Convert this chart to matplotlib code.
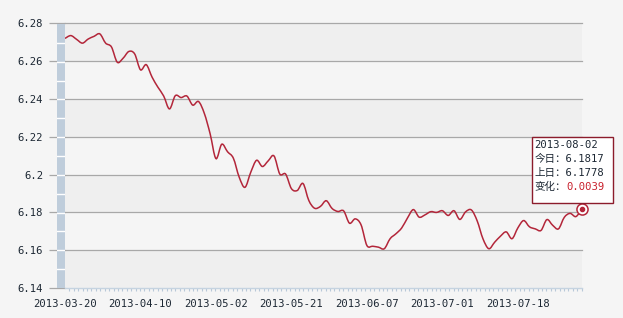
import matplotlib
matplotlib.use("Agg")
import matplotlib.pyplot as plt
from matplotlib.path import Path
from matplotlib.patches import PathPatch

# USD/CNY central parity, one point per trading day, 2013-03-20 .. 2013-08-02
rates = [6.2721, 6.2736, 6.2716, 6.2696, 6.2718, 6.2732, 6.2745, 6.2696, 6.2676, 6.2595,
         6.2616, 6.2652, 6.2639, 6.2555, 6.2582, 6.2516, 6.2463, 6.2416, 6.2348, 6.2418,
         6.2408, 6.2416, 6.2368, 6.2387, 6.2324, 6.2216, 6.2085, 6.2161, 6.2121, 6.2087,
         6.1987, 6.1933, 6.2013, 6.2076, 6.2043, 6.2073, 6.2099, 6.2003, 6.2003, 6.1926,
         6.1916, 6.1953, 6.1863, 6.1822, 6.1832, 6.1862, 6.1821, 6.1805, 6.1808, 6.1743,
         6.1766, 6.1734, 6.1625, 6.1621, 6.1616, 6.1608, 6.1661, 6.1687, 6.1718, 6.1771,
         6.1815, 6.1775, 6.1787, 6.1804, 6.1800, 6.1809, 6.1784, 6.1809, 6.1763, 6.1803,
         6.1813, 6.1755, 6.1660, 6.1608, 6.1642, 6.1674, 6.1697, 6.1661, 6.1718, 6.1757,
         6.1724, 6.1713, 6.1705, 6.1762, 6.1732, 6.1713, 6.1774, 6.1795, 6.1778, 6.1817]
date_labels = ["2013-03-20", "2013-04-10", "2013-05-02", "2013-05-21",
               "2013-06-07", "2013-07-01", "2013-07-18"]
label_idx = [0, 13, 26, 39, 52, 65, 78]
y_ticks = [6.14, 6.16, 6.18, 6.2, 6.22, 6.24, 6.26, 6.28]
y_tick_labels = ["6.14", "6.16", "6.18", "6.2", "6.22", "6.24", "6.26", "6.28"]
last_date = "2013-08-02"
today_val = "6.1817"
prev_val = "6.1778"
change_val = "0.0039"

W, H = 623, 318
BG = "#f5f5f5"
BAND = "#efefef"
RED = "#b3263a"
TXT = "#1c2733"
MONO = "DejaVu Sans Mono"

fig = plt.figure(figsize=(W / 100, H / 100), dpi=100, facecolor=BG)
left, right, top, bottom = 65, 581.7, 23.5, 288
ax = fig.add_axes([left / W, 1 - bottom / H, (right - left) / W, (bottom - top) / H])
ax.set_facecolor(BG)

n = len(rates)
ax.set_xlim(0, n - 1)
ax.set_ylim(6.14, 6.28)

for lo in [6.14, 6.18, 6.22, 6.26]:
    ax.axhspan(lo, lo + 0.02, color=BAND, zorder=0, lw=0)
for y in y_ticks[1:]:
    ax.axhline(y, color="#a8a8a8", lw=0.9, zorder=1, clip_on=False)

# smooth curve through the daily points (Catmull-Rom as cubic Bezier)
pts = list(zip(range(n), rates))
verts = [pts[0]]
codes = [Path.MOVETO]
for i in range(n - 1):
    p0 = pts[max(i - 1, 0)]
    p1 = pts[i]
    p2 = pts[i + 1]
    p3 = pts[min(i + 2, n - 1)]
    c1 = (p1[0] + (p2[0] - p0[0]) / 6, p1[1] + (p2[1] - p0[1]) / 6)
    c2 = (p2[0] - (p3[0] - p1[0]) / 6, p2[1] - (p3[1] - p1[1]) / 6)
    verts += [c1, c2, p2]
    codes += [Path.CURVE4] * 3
ax.add_patch(PathPatch(Path(verts, codes), fill=False, edgecolor=RED, lw=1.1, zorder=3))

ax.set_yticks(y_ticks)
ax.set_yticklabels(y_tick_labels, fontfamily=MONO, fontsize=7.6, color=TXT)
ax.tick_params(axis="y", length=11.5, width=0.9, color="#a8a8a8", pad=4.3)

ax.set_xticks(label_idx)
ax.set_xticklabels(date_labels, fontfamily=MONO, fontsize=7.6, color=TXT)
ax.tick_params(axis="x", which="major", length=0, pad=8)
ax.set_xticks([i * (n - 1) / 117 for i in range(118)], minor=True)
ax.tick_params(axis="x", which="minor", length=2.5, width=0.8, color="#b8c8d8", direction="out")

for s in ["top", "right", "left"]:
    ax.spines[s].set_visible(False)
ax.spines["bottom"].set_color("#c5d3e0")
ax.spines["bottom"].set_linewidth(1.0)

# blue-grey strip on the left of the plot
bar = fig.add_axes([57 / W, 1 - bottom / H, 8 / W, (bottom - 24) / H])
bar.set_facecolor("#bfcddb")
bar.set_ylim(6.14, 6.28)
bar.set_xlim(0, 1)
for k in range(1, 14):
    bar.axhline(6.14 + k * 0.01, color="white", lw=1.0)
bar.set_xticks([])
bar.set_yticks([])
for s in bar.spines.values():
    s.set_visible(False)

# end marker
ax.plot([n - 1], [rates[-1]], marker="o", ms=8, mfc="white", mec=RED, mew=1.1,
        zorder=5, clip_on=False)
ax.plot([n - 1], [rates[-1]], marker="o", ms=3, mfc=RED, mec=RED, zorder=6, clip_on=False)

# tooltip
box = plt.Rectangle((532.3 / W, 1 - 202.7 / H), 81 / W, 66 / H, transform=fig.transFigure,
                    facecolor="white", edgecolor="#8c1c2c", lw=1.0, zorder=10)
fig.add_artist(box)
fam = [MONO, "Noto Sans CJK SC"]
fig.text(534.5 / W, 1 - 145 / H, last_date, family=fam, fontsize=7.6, color=TXT,
         va="center", zorder=11)
fig.text(534.5 / W, 1 - 159.3 / H, "今日：" + today_val, family=fam, fontsize=7.6,
         color=TXT, va="center", zorder=11)
fig.text(534.5 / W, 1 - 173.3 / H, "上日：" + prev_val, family=fam, fontsize=7.6,
         color=TXT, va="center", zorder=11)
fig.text(534.5 / W, 1 - 187.3 / H, "变化：", family=fam, fontsize=7.6, color=TXT,
         va="center", zorder=11)
fig.text(566 / W, 1 - 187.3 / H, change_val, family=fam, fontsize=7.6, color="#c8202c",
         va="center", zorder=11)

fig.savefig("out.png", dpi=100, facecolor=BG)
